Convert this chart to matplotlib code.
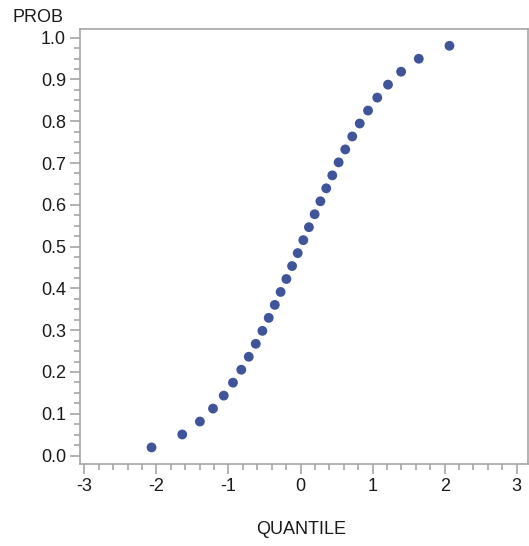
import matplotlib
matplotlib.use("Agg")
import matplotlib.pyplot as plt
from matplotlib.ticker import MultipleLocator

plt.rcParams['font.family'] = ['Liberation Sans', 'DejaVu Sans']

quantile = [-2.067, -1.641, -1.396, -1.214, -1.065, -0.937, -0.822, -0.718,
            -0.621, -0.529, -0.441, -0.357, -0.276, -0.196, -0.117, -0.039,
            0.039, 0.117, 0.196, 0.276, 0.357, 0.441, 0.529, 0.621,
            0.718, 0.822, 0.937, 1.065, 1.214, 1.396, 1.641, 2.067]
prob = [0.0194, 0.0504, 0.0814, 0.1124, 0.1434, 0.1744, 0.2054, 0.2364,
        0.2674, 0.2984, 0.3295, 0.3605, 0.3915, 0.4225, 0.4535, 0.4845,
        0.5155, 0.5465, 0.5775, 0.6085, 0.6395, 0.6705, 0.7016, 0.7326,
        0.7636, 0.7946, 0.8256, 0.8566, 0.8876, 0.9186, 0.9496, 0.9806]

xticks = [-3, -2, -1, 0, 1, 2, 3]
yticks = [0.0, 0.1, 0.2, 0.3, 0.4, 0.5, 0.6, 0.7, 0.8, 0.9, 1.0]

fig = plt.figure(figsize=(5.29, 5.46), dpi=100)
ax = fig.add_axes([0.1512, 0.1496, 0.8475, 0.7967])

ax.scatter(quantile, prob, s=50, color='#3F5499', edgecolors='none', zorder=3)

ax.set_xlim(-3.06, 3.161)
ax.set_ylim(-0.021, 1.020)

ax.set_xticks(xticks)
ax.set_xticklabels([str(t) for t in xticks])
ax.set_yticks(yticks)
ax.set_yticklabels([f"{t:.1f}" for t in yticks])
ax.xaxis.set_minor_locator(MultipleLocator(0.2))
ax.yaxis.set_minor_locator(MultipleLocator(0.025))

gray = '#A5A5A5'
for sp in ax.spines.values():
    sp.set_color(gray)
    sp.set_linewidth(1.2)

ax.tick_params(axis='both', which='major', length=7, width=1.2, color=gray,
               labelsize=13, labelcolor='#1A1A1A')
ax.tick_params(axis='both', which='minor', length=4, width=1.2, color=gray)
ax.tick_params(axis='x', which='major', pad=3)
ax.tick_params(axis='y', which='major', pad=3)

fig.text(12 / 529, 1 - 17 / 546, 'PROB', fontsize=13, color='#1A1A1A',
         ha='left', va='center')
fig.text(301 / 529, 1 - 530 / 546, 'QUANTILE', fontsize=13, color='#1A1A1A',
         ha='center', va='center')

fig.savefig('out.png', dpi=100)
